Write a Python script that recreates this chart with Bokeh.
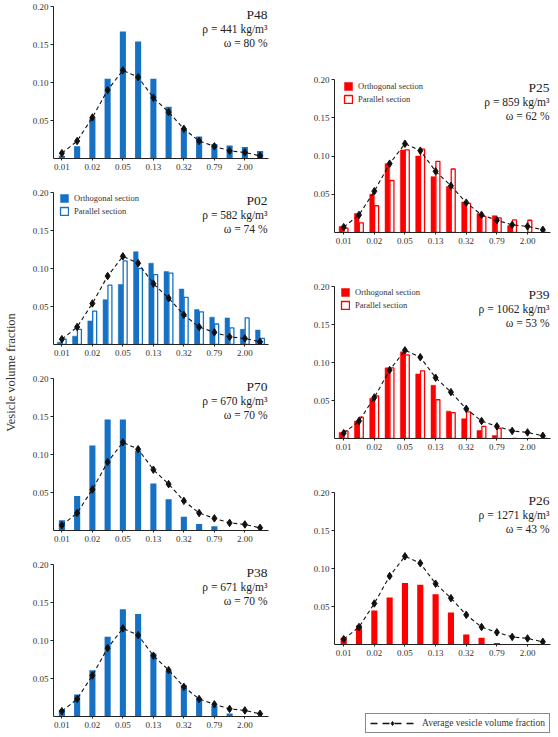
import math

from bokeh.embed import file_html
from bokeh.layouts import column, row
from bokeh.models import (ColumnDataSource, FixedTicker, Label, Legend,
                          LegendItem, NumeralTickFormatter, Range1d, Spacer)
from bokeh.plotting import figure
from bokeh.resources import INLINE

# ---------------------------------------------------------------- data
# 14 vesicle-size classes; every second class carries a tick label
bins = list(range(14))
tick_bins = [0, 2, 4, 6, 8, 10, 12]
tick_labels = ["0.01", "0.02", "0.05", "0.13", "0.32", "0.79", "2.00"]
y_ticks = [0.05, 0.10, 0.15, 0.20]

average = [0.007, 0.023, 0.054, 0.090, 0.116, 0.107, 0.080, 0.061,
           0.039, 0.023, 0.016, 0.010, 0.008, 0.0035]

p48 = [0.0035, 0.016, 0.053, 0.105, 0.167, 0.154, 0.105, 0.068,
       0.039, 0.029, 0.019, 0.017, 0.015, 0.010]
p02_orth = [0.003, 0.011, 0.031, 0.059, 0.079, 0.122, 0.107, 0.096,
            0.073, 0.046, 0.036, 0.035, 0.020, 0.019]
p02_par = [0.007, 0.020, 0.044, 0.078, 0.110, 0.100, 0.092, 0.094,
           0.062, 0.043, 0.027, 0.022, 0.035, 0.008]
p70 = [0.0135, 0.0455, 0.112, 0.146, 0.146, 0.105, 0.062, 0.041,
       0.018, 0.0085, 0.0057, 0.0, 0.0, 0.0]
p38 = [0.009, 0.029, 0.061, 0.105, 0.141, 0.135, 0.083, 0.060,
       0.041, 0.024, 0.014, 0.004, 0.0, 0.0]
p25_orth = [0.008, 0.025, 0.050, 0.090, 0.108, 0.100, 0.073, 0.060,
            0.040, 0.025, 0.022, 0.009, 0.0, 0.0]
p25_par = [0.0057, 0.0126, 0.035, 0.068, 0.108, 0.109, 0.093, 0.083,
           0.038, 0.021, 0.019, 0.0165, 0.016, 0.0]
p39_orth = [0.008, 0.023, 0.053, 0.093, 0.114, 0.085, 0.070, 0.036,
            0.026, 0.0105, 0.004, 0.0, 0.0, 0.0]
p39_par = [0.010, 0.028, 0.056, 0.093, 0.110, 0.089, 0.051, 0.034,
           0.035, 0.016, 0.0135, 0.0, 0.0, 0.0]
p26 = [0.0088, 0.025, 0.0447, 0.062, 0.081, 0.0785, 0.066, 0.042,
       0.013, 0.009, 0.002, 0.0, 0.0, 0.0]

# ---------------------------------------------------------------- style
BLUE = "#1671c4"
RED = "#ff0000"
SERIF = "Liberation Serif"
INK = "#222222"


def make_panel(name, density, omega, fill, single=None, orth=None, par=None,
               frame_w=215, frame_h=152, left=33, right=11, top=6, bottom=28,
               x_start=-0.55, x_end=13.55, legend_dx=6, legend_top=0):
    p = figure(frame_width=frame_w, frame_height=frame_h,
               min_border_left=left, min_border_right=right,
               min_border_top=top, min_border_bottom=bottom,
               x_range=Range1d(x_start, x_end), y_range=Range1d(0, 0.20),
               output_backend="svg", toolbar_location=None,
               outline_line_color=None)
    p.xgrid.visible = False
    p.ygrid.visible = False

    if single is not None:
        p.vbar(x=bins, top=single, width=0.4, fill_color=fill,
               line_color=None)
    else:
        src_o = ColumnDataSource(dict(x=[b - 0.15 for b in bins], top=orth))
        src_p = ColumnDataSource(dict(x=[b + 0.15 for b in bins], top=par))
        r_o = p.vbar(x="x", top="top", width=0.3, source=src_o,
                     fill_color=fill, line_color=fill, line_width=0.5)
        r_p = p.vbar(x="x", top="top", width=0.26, source=src_p,
                     fill_color="white", line_color=fill, line_width=1.3)
        leg = Legend(items=[LegendItem(label="Orthogonal section", renderers=[r_o]),
                            LegendItem(label="Parallel section", renderers=[r_p])],
                     location=(legend_dx, frame_h - 24 - legend_top),
                     padding=0, margin=0, spacing=3,
                     glyph_width=10, glyph_height=10, label_height=10,
                     label_standoff=5, border_line_color=None,
                     background_fill_alpha=0,
                     label_text_font=SERIF, label_text_font_size="8.5px",
                     label_text_color="#333333")
        p.add_layout(leg)

    # average curve of the whole collection
    p.line(bins, average, line_color="#111111", line_width=1.1,
           line_dash="4 3")
    p.scatter(bins, average, marker="diamond", size=7.5,
              fill_color="#111111", line_color="#111111")

    # axes
    for ax in (p.xaxis[0], p.yaxis[0]):
        ax.axis_line_color = INK
        ax.major_tick_line_color = INK
        ax.minor_tick_line_color = None
        ax.major_tick_in = 0
        ax.major_label_text_font = SERIF
        ax.major_label_text_font_size = "9px"
        ax.major_label_text_color = "#333333"
    p.yaxis.ticker = FixedTicker(ticks=y_ticks)
    p.yaxis.formatter = NumeralTickFormatter(format="0.00")
    p.yaxis.major_tick_out = 3
    p.yaxis.major_label_standoff = 2
    p.xaxis.ticker = FixedTicker(ticks=tick_bins)
    p.xaxis.major_label_overrides = {b: t for b, t in zip(tick_bins, tick_labels)}
    p.xaxis.major_tick_out = 2
    p.xaxis.major_label_standoff = 3

    # sample name, density and vesicularity
    for text, size, dy in ((name, "13.5px", -8),
                           ("\u03c1 = %s kg/m\u00b3" % density, "11.5px", -22),
                           ("\u03c9 = %s %%" % omega, "11.5px", -36)):
        p.add_layout(Label(x=x_end, y=0.20, x_offset=-1, y_offset=dy,
                           text=text, text_align="right",
                           text_baseline="alphabetic", text_font=SERIF,
                           text_font_size=size, text_color=INK))
    return p


# left column: fixed frame 215 x 152 starting at x = 53
f48 = make_panel("P48", 441, 80, BLUE, single=p48)
f02 = make_panel("P02", 582, 74, BLUE, orth=p02_orth, par=p02_par)
f70 = make_panel("P70", 670, 70, BLUE, single=p70)
f38 = make_panel("P38", 671, 70, BLUE, single=p38, bottom=21)

# right column: frame 216 wide starting at x = 334
rkw = dict(frame_w=216, left=55, right=8, x_start=-0.6, x_end=13.5)
f25 = make_panel("P25", 859, 62, RED, orth=p25_orth, par=p25_par,
                 frame_h=153, bottom=48, legend_dx=9, legend_top=1, **rkw)
f39 = make_panel("P39", 1062, 53, RED, orth=p39_orth, par=p39_par,
                 bottom=48, legend_dx=6, **rkw)
f26 = make_panel("P26", 1271, 43, RED, single=p26, bottom=56, **rkw)

# shared y-axis title
ylab = figure(width=20, height=737, x_range=Range1d(0, 20),
              y_range=Range1d(0, 737), output_backend="svg",
              toolbar_location=None, outline_line_color=None,
              min_border=0)
ylab.axis.visible = False
ylab.grid.visible = False
ylab.add_layout(Label(x=10, y=365, text="Vesicle volume fraction",
                      angle=math.pi / 2, text_align="center",
                      text_baseline="middle", text_font=SERIF,
                      text_font_size="12.5px", text_color="#333333"))

# key for the average curve (same horizontal borders as the panels above);
# its renderers hold a single undefined point so only the key swatch shows
key = figure(frame_width=216, frame_height=37, min_border_left=55,
             min_border_right=8, min_border_top=0, min_border_bottom=0,
             x_range=Range1d(0, 1), y_range=Range1d(0, 1),
             output_backend="svg", toolbar_location=None,
             outline_line_color=None)
key.axis.visible = False
key.grid.visible = False
swatch = ColumnDataSource(dict(x=[float("nan")], y=[float("nan")]))
k_line = key.line("x", "y", source=swatch, line_color="#111111",
                  line_width=1.3, line_dash="7 5")
k_mark = key.scatter("x", "y", source=swatch, marker="diamond", size=10,
                     fill_color="#111111", line_color="#111111")
key.add_layout(Legend(items=[LegendItem(label="Average vesicle volume fraction",
                                        renderers=[k_line, k_mark])],
                      location=(31, 4), padding=4, margin=0,
                      glyph_width=44, glyph_height=10, label_height=10,
                      label_standoff=8, border_line_color="#111111",
                      border_line_width=1, background_fill_color="white",
                      label_text_font=SERIF, label_text_font_size="9.5px",
                      label_text_color="#333333"))

left = column(f48, f02, f70, f38)
right = column(Spacer(width=279, height=73), f25, f39, f26, key)
page = row(ylab, left, right)

open("out.html", "w").write(file_html(page, INLINE))
